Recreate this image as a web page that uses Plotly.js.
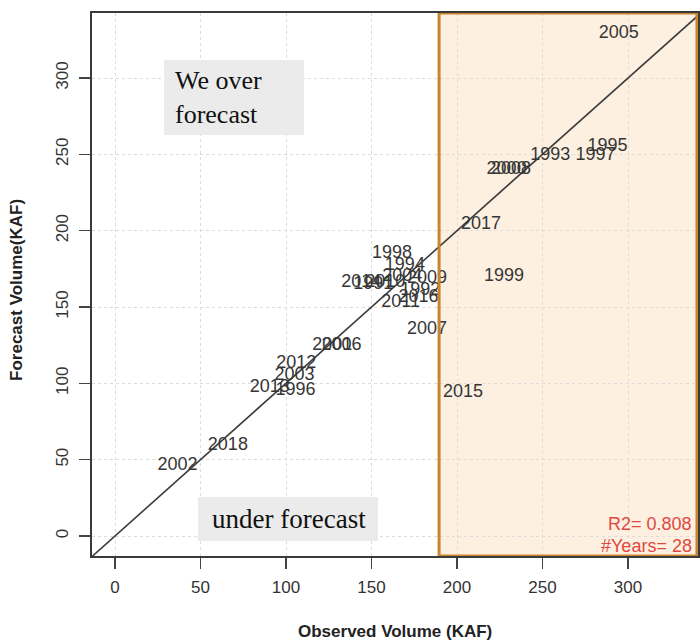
<!DOCTYPE html>
<html><head><meta charset="utf-8">
<script src="https://cdn.plot.ly/plotly-3.0.1.min.js"></script>
<style>html,body{margin:0;padding:0;background:#fff}</style>
</head><body><div id="chart" style="width:700px;height:641px"></div>
<script>
// Year labels with observed vs forecast volumes (KAF)
const years    = ['2005','1995','1997','1993','2000','2008','2017','1999','2015','2007','1998','1994','2009','2004','2010','1991','2014','1992','2016','2011','2006','2001','2012','2003','2013','1996','2018','2002'];
const observed = [294.5, 288, 281, 254.5, 229, 231.5, 214, 227.5, 203.5, 182.5, 162, 169.5, 182.5, 168, 158, 151, 144, 178.5, 177.5, 167, 132.5, 127, 106, 105, 90.5, 105.5, 66, 36.5];
const forecast = [329.5, 255, 249.5, 249.5, 240, 240, 204, 170, 94, 135.5, 185, 177, 169, 170, 166, 165, 166, 161, 156, 153, 125, 125, 113, 105, 97.5, 95.5, 59.5, 46.5];
const oneToOne = [-20, 350];
const tickVals = [0, 50, 100, 150, 200, 250, 300];
const xRange = [-13.45, 340.9];
const yRange = [-13.1, 342.6];
const underThreshold = 189.5;
const r2Text = 'R2= 0.808';
const nYearsText = '#Years= 28';

const sans = 'Liberation Sans, Arial, sans-serif';
const serif = 'Liberation Serif, Times New Roman, serif';

const traces = [
  {x: oneToOne, y: oneToOne, mode: 'lines', line: {color: '#3c3c3c', width: 1.6}, hoverinfo: 'skip', showlegend: false},
  {x: observed, y: forecast, text: years, mode: 'text', textposition: 'middle center',
   textfont: {family: sans, size: 18, color: '#363636'}, showlegend: false, cliponaxis: false}
];

const axisCommon = {
  tickvals: tickVals, ticks: 'outside', ticklen: 11, tickwidth: 1.5, tickcolor: '#444',
  showline: true, linecolor: '#3a3a3a', linewidth: 2, mirror: true,
  showgrid: true, gridcolor: '#dcdcdc', griddash: 'dot', gridwidth: 1,
  zeroline: false, tickfont: {family: sans, size: 17, color: '#333'}, fixedrange: true
};

const layout = {
  width: 700, height: 641,
  margin: {l: 92, r: 2, t: 13, b: 85},
  paper_bgcolor: '#fff', plot_bgcolor: '#fff',
  xaxis: Object.assign({}, axisCommon, {range: xRange, ticklabelstandoff: 4}),
  yaxis: Object.assign({}, axisCommon, {range: yRange, tickangle: -90, ticklabelstandoff: 4}),
  shapes: [
    {type: 'rect', xref: 'x', yref: 'y', x0: underThreshold, x1: xRange[1], y0: yRange[0], y1: yRange[1],
     fillcolor: '#fdf0e1', line: {width: 0}, layer: 'below'},
    {type: 'rect', xref: 'x', yref: 'y', x0: underThreshold, x1: xRange[1] - 0.6, y0: yRange[0], y1: yRange[1],
     fillcolor: 'rgba(0,0,0,0)', line: {color: '#c8842f', width: 3}, layer: 'above'},
    {type: 'rect', xref: 'paper', yref: 'paper', x0: 0.1188, x1: 0.3498, y0: 0.7753, y1: 0.9134,
     fillcolor: '#ebebeb', line: {width: 0}, layer: 'above'},
    {type: 'rect', xref: 'paper', yref: 'paper', x0: 0.1749, x1: 0.4719, y0: 0.0276, y1: 0.1087,
     fillcolor: '#ebebeb', line: {width: 0}, layer: 'above'}
  ],
  annotations: [
    {xref: 'paper', yref: 'paper', x: 0.1336, y: 0.844, xanchor: 'left', yanchor: 'middle',
     text: 'We over<br>forecast', align: 'left', showarrow: false,
     font: {family: serif, size: 26, color: '#111'}},
    {xref: 'paper', yref: 'paper', x: 0.1947, y: 0.0681, xanchor: 'left', yanchor: 'middle',
     text: 'under forecast', align: 'left', showarrow: false,
     font: {family: serif, size: 27, color: '#111'}},
    {xref: 'paper', yref: 'paper', x: 1, y: 0.0589, xanchor: 'right', yanchor: 'middle', xshift: -4,
     text: r2Text, showarrow: false, font: {family: sans, size: 18, color: '#e0483f'}},
    {xref: 'paper', yref: 'paper', x: 1, y: 0.0184, xanchor: 'right', yanchor: 'middle', xshift: -4,
     text: nYearsText, showarrow: false, font: {family: sans, size: 18, color: '#e0483f'}},
    {xref: 'paper', yref: 'paper', x: 0.5, y: 0, yshift: -75, yanchor: 'middle',
     text: '<b>Observed Volume (KAF)</b>', showarrow: false, font: {family: sans, size: 17, color: '#222'}},
    {xref: 'paper', yref: 'paper', x: 0, y: 0.49, xshift: -75, xanchor: 'center', yanchor: 'middle', textangle: -90,
     text: '<b>Forecast Volume(KAF)</b>', showarrow: false, font: {family: sans, size: 17, color: '#222'}}
  ]
};

Plotly.newPlot('chart', traces, layout, {staticPlot: true, displayModeBar: false});
</script>
</body></html>
